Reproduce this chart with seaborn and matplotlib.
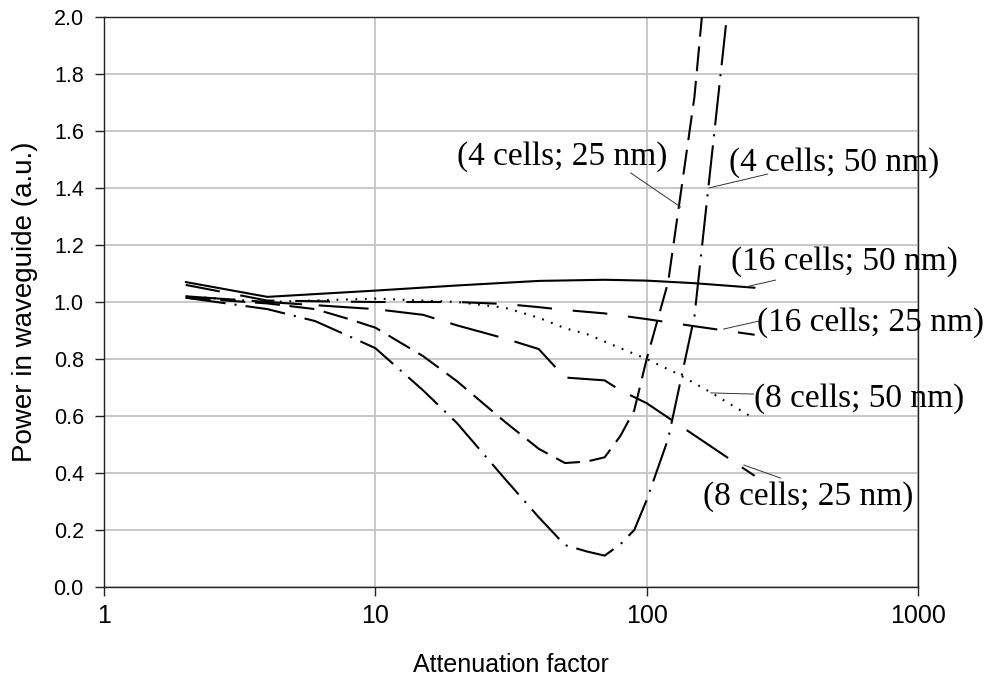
import numpy as np
import pandas as pd
import matplotlib
matplotlib.use("Agg")
import matplotlib.pyplot as plt
import seaborn as sns

# Attenuation factor (x) and normalised power in the waveguide (y) for each structure
x_16_50 = [2, 4, 10, 20, 40, 70, 100, 150, 250]
y_16_50 = [1.07, 1.018, 1.04, 1.058, 1.074, 1.078, 1.075, 1.066, 1.05]

x_16_25 = [2, 4, 10, 20, 30, 40, 50, 70, 100, 150, 250]
y_16_25 = [1.06, 1.005, 1.0, 1.0, 0.993, 0.982, 0.972, 0.96, 0.94, 0.915, 0.885]

x_8_50 = [2, 4, 10, 20, 30, 40, 50, 60, 80, 100, 130, 170, 250]
y_8_50 = [1.02, 1.0, 1.012, 1.0, 0.98, 0.945, 0.908, 0.888, 0.838, 0.80, 0.748, 0.686, 0.59]

x_8_25 = [2, 4, 10, 15, 20, 30, 40, 50, 70, 80, 100, 250]
y_8_25 = [1.02, 1.0, 0.975, 0.955, 0.918, 0.872, 0.835, 0.735, 0.725, 0.69, 0.645, 0.39]

x_4_25 = [2, 4, 6, 8, 10, 15, 20, 30, 40, 50, 60, 70, 80, 90, 100, 120, 150, 200]
y_4_25 = [1.015, 0.995, 0.975, 0.94, 0.91, 0.81, 0.722, 0.58, 0.485, 0.435, 0.44, 0.455,
          0.53, 0.62, 0.80, 1.07, 1.72, 3.0]

x_4_50 = [2, 4, 6, 8, 10, 15, 20, 30, 40, 50, 60, 70, 80, 90, 100, 120, 150, 200]
y_4_50 = [1.015, 0.975, 0.933, 0.88, 0.838, 0.69, 0.575, 0.38, 0.245, 0.147, 0.125, 0.11,
          0.15, 0.2, 0.305, 0.52, 0.95, 2.05]

series_names = ["(16 cells; 50 nm)", "(16 cells; 25 nm)", "(8 cells; 50 nm)",
                "(8 cells; 25 nm)", "(4 cells; 25 nm)", "(4 cells; 50 nm)"]

x_ticks = [1, 10, 100, 1000]
x_tick_labels = ["1", "10", "100", "1000"]
y_ticks = [0.0, 0.2, 0.4, 0.6, 0.8, 1.0, 1.2, 1.4, 1.6, 1.8, 2.0]

# Label anchor (x, y), alignment, and leader line (text end -> curve end)
label_pos = [(204, 1.14), (255, 0.926), (248, 0.66), (161, 0.316), (119.5, 1.509), (201, 1.49)]
label_ha = ["left", "left", "left", "left", "right", "left"]
leader_from = [(299, 1.077), (259, 0.933), (248, 0.677), (312, 0.382), (87.3, 1.453), (279.5, 1.449)]
leader_to = [(232, 1.053), (192, 0.905), (172, 0.681), (228, 0.428), (133.5, 1.333), (169.3, 1.40)]

frames = []
for name, xs, ys in zip(series_names,
                        [x_16_50, x_16_25, x_8_50, x_8_25, x_4_25, x_4_50],
                        [y_16_50, y_16_25, y_8_50, y_8_25, y_4_25, y_4_50]):
    frames.append(pd.DataFrame({"attenuation": xs, "power": ys, "structure": name}))
df = pd.concat(frames, ignore_index=True)

line_styles = {
    "(16 cells; 50 nm)": "-",
    "(16 cells; 25 nm)": (0, (25, 15)),
    "(8 cells; 50 nm)": (0, (1.3, 5.5)),
    "(8 cells; 25 nm)": (0, (36, 12)),
    "(4 cells; 25 nm)": (0, (18, 7)),
    "(4 cells; 50 nm)": (0, (29, 6.5, 1.5, 6.5)),
}

sns.set_theme(style="white")
plt.rcParams["font.family"] = ["Liberation Sans", "DejaVu Sans"]
plt.rcParams["lines.scale_dashes"] = False

fig = plt.figure(figsize=(9.91, 6.81), dpi=100)
ax = fig.add_axes([104 / 991, 1 - 587 / 681, 814 / 991, 570 / 681])

ax.set_xscale("log")
ax.set_xlim(1, 1000)
ax.set_ylim(0, 2.0)

for name in series_names:
    sub = df[df["structure"] == name]
    sns.lineplot(data=sub, x="attenuation", y="power", ax=ax, color="black",
                 linewidth=1.5, linestyle=line_styles[name], sort=False,
                 estimator=None, legend=False, zorder=3)

ax.set_xticks(x_ticks)
ax.set_xticklabels(x_tick_labels)
ax.xaxis.set_minor_locator(matplotlib.ticker.NullLocator())
ax.set_yticks(y_ticks)
ax.set_yticklabels([f"{v:.1f}" for v in y_ticks])

ax.grid(True, which="major", color="#c4c4c4", linewidth=1.3)
ax.set_axisbelow(True)
for side in ["left", "bottom", "top", "right"]:
    ax.spines[side].set_visible(True)
    ax.spines[side].set_color("#222222")
    ax.spines[side].set_linewidth(1.0)

ax.tick_params(axis="both", which="major", direction="out", length=6.5, width=1,
               color="#222222", labelcolor="black", bottom=True, left=True)
ax.tick_params(axis="x", labelsize=18, pad=6)
ax.tick_params(axis="y", labelsize=15.5, pad=8)

ax.set_xlabel("Attenuation factor", fontsize=18, color="black")
ax.set_ylabel("Power in waveguide (a.u.)", fontsize=20, color="black")
ax.xaxis.label.set_va("center")
ax.xaxis.set_label_coords(0.5, -(665 - 587) / 570)
ax.yaxis.label.set_va("center")
ax.yaxis.set_label_coords(-(104 - 25) / 814, 0.5)

for name, pos, ha, p0, p1 in zip(series_names, label_pos, label_ha, leader_from, leader_to):
    ax.plot([p0[0], p1[0]], [p0[1], p1[1]], color="#333333", linewidth=0.7,
            zorder=4, clip_on=False)
    ax.text(pos[0], pos[1], name, ha=ha, va="center", fontsize=24,
            family=["Liberation Serif", "DejaVu Serif"], color="black", zorder=5)

fig.savefig("out.png", dpi=100)
